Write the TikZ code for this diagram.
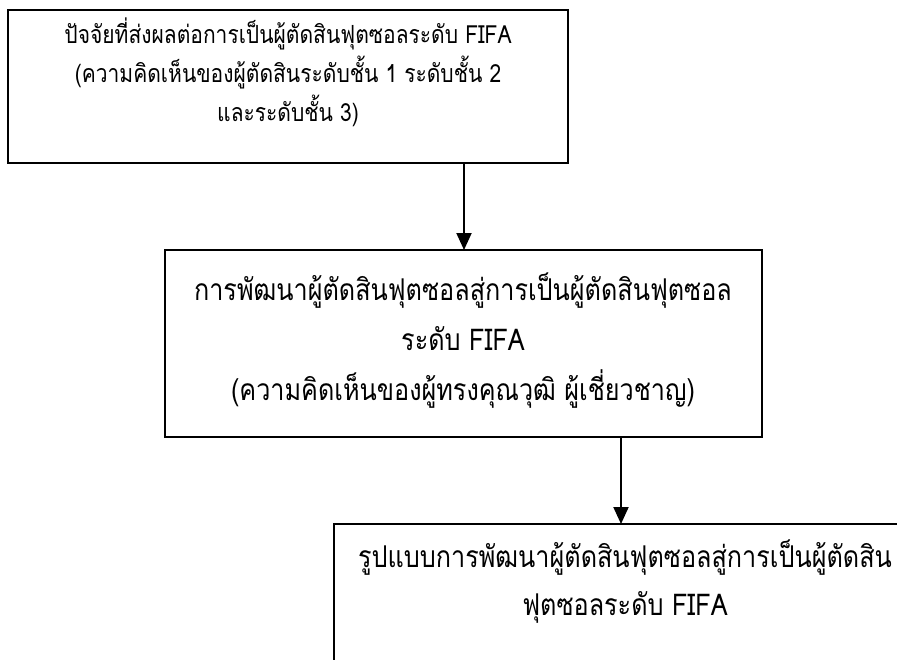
\documentclass[tikz,border=0pt]{standalone}
\usepackage{fontspec}
\newfontfamily\thaifont[Script=Thai,FakeStretch=0.84]{Loma}
\usetikzlibrary{arrows.meta}
\begin{document}
\begin{tikzpicture}[x=1pt,y=-1pt,
  frame/.style={draw=black, line width=1.1pt, inner sep=0pt, outer sep=0pt, anchor=north west},
  arr/.style={line width=2pt, -{Triangle[length=17pt,width=15pt]}},
  txtA/.style={inner sep=0pt, align=center, font=\thaifont\fontsize{25}{39}\selectfont},
  txtB/.style={inner sep=0pt, align=center, font=\thaifont\fontsize{30}{50}\selectfont},
  txtC/.style={inner sep=0pt, align=center, font=\thaifont\fontsize{30}{48}\selectfont}]
\useasboundingbox (0,0) rectangle (897,659);
\clip (0,0) rectangle (897,659);
\fill[white] (0,0) rectangle (897,659);
% boxes
\node[frame, minimum width=560pt, minimum height=153pt] (b1) at (8,10) {};
\node[frame, minimum width=597pt, minimum height=187pt] (b2) at (165,250) {};
\node[frame, minimum width=582pt, minimum height=240pt] (b3) at (334,524) {};
% texts
\node[txtA] (t1) at (288,72) {ปัจจัยที่ส่งผลต่อการเป็นผู้ตัดสินฟุตซอลระดับ FIFA\\(ความคิดเห็นของผู้ตัดสินระดับชั้น 1 ระดับชั้น 2\\และระดับชั้น 3)};
\node[txtB] (t2) at (463,341) {การพัฒนาผู้ตัดสินฟุตซอลสู่การเป็นผู้ตัดสินฟุตซอล\\ระดับ FIFA\\(ความคิดเห็นของผู้ทรงคุณวุฒิ ผู้เชี่ยวชาญ)};
\node[txtC] (t3) at (625,582) {รูปแบบการพัฒนาผู้ตัดสินฟุตซอลสู่การเป็นผู้ตัดสิน\\ฟุตซอลระดับ FIFA};
% arrow positions
\coordinate (ax1) at (464,0);
\coordinate (ax2) at (621,0);
\draw[arr] (b1.south -| ax1) -- (b2.north -| ax1);
\draw[arr] (b2.south -| ax2) -- (b3.north -| ax2);
\end{tikzpicture}
\end{document}
